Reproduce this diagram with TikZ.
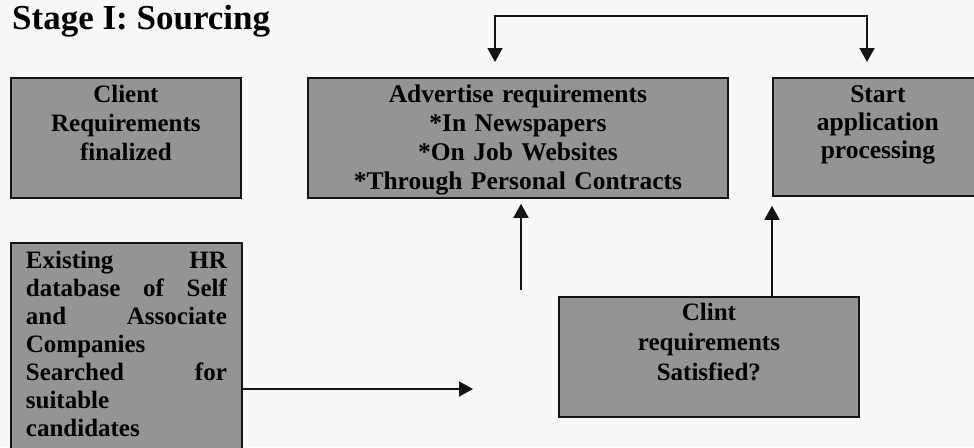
\documentclass[tikz,border=0pt]{standalone}
\usepackage{fontspec}
\setmainfont{Liberation Serif}
\usetikzlibrary{arrows.meta}
\definecolor{bgc}{RGB}{248,248,246}
\definecolor{boxc}{RGB}{148,148,146}
\definecolor{linec}{RGB}{20,20,20}
\begin{document}
\begin{tikzpicture}[x=1pt,y=-1pt,
  stagebox/.style={draw=linec, line width=1.8pt, fill=boxc, rectangle, inner xsep=0pt, inner ysep=0pt,
    align=center, anchor=north west, font=\bfseries\fontsize{25.5}{29}\selectfont},
  conn/.style={draw=linec, line width=1.8pt, -{Triangle[length=14pt,width=15pt]}},
  conn2/.style={draw=linec, line width=1.8pt, {Triangle[length=14pt,width=15pt]}-{Triangle[length=14pt,width=15pt]}}]
\fill[bgc] (0,0) rectangle (974,447);
\useasboundingbox (0,0) rectangle (974,447);

\node[anchor=base west, inner sep=0pt, font=\bfseries\fontsize{35}{38}\selectfont] (title) at (12,29) {Stage I: Sourcing};

\node[stagebox, text width=230pt, text height=25pt, text depth=95pt, font=\bfseries\fontsize{25}{29}\selectfont] (client) at (10,77)
  {Client\\Requirements\\finalized};

\node[stagebox, text width=420pt, text height=25pt, text depth=95pt] (adv) at (307,77)
  {Advertise requirements\\{}*In Newspapers\\{}*On Job Websites\\{}*Through Personal Contracts};

\node[stagebox, text width=210pt, text height=25pt, text depth=93pt, font=\bfseries\fontsize{25.5}{28}\selectfont] (start) at (772,77)
  {Start\\application\\processing};

\node[stagebox, text width=201pt, inner xsep=15pt, align=left, text height=26pt, text depth=204pt, font=\bfseries\fontsize{25}{28}\selectfont] (hr) at (10,242)
  {Existing\hfill HR\\database\hfill of\hfill Self\\and\hfill Associate\\Companies\\Searched\hfill for\\suitable\\candidates};

\node[stagebox, text width=300pt, text height=24pt, text depth=96pt, font=\bfseries\fontsize{25}{30}\selectfont] (clint) at (558,296)
  {Clint\\requirements\\Satisfied?};

% top connector between Advertise and Start
\coordinate (tA) at (495,16);
\coordinate (tB) at (867,16);
\draw[conn2, shorten <=15pt, shorten >=15pt] (tA |- adv.north) -- (tA) -- (tB) -- (tB |- start.north);

% free line up to Advertise
\coordinate (lstart) at (521,290);
\draw[conn, shorten >=5pt] (lstart) -- (lstart |- adv.south);

% Clint up to Start
\coordinate (rx) at (772,0);
\draw[conn, shorten >=9pt] (rx |- clint.north) -- (rx |- start.south);

% HR database to Clint
\coordinate (hy) at (0,389);
\draw[conn, shorten >=85pt] (hr.east |- hy) -- (clint.west |- hy);
\end{tikzpicture}
\end{document}
